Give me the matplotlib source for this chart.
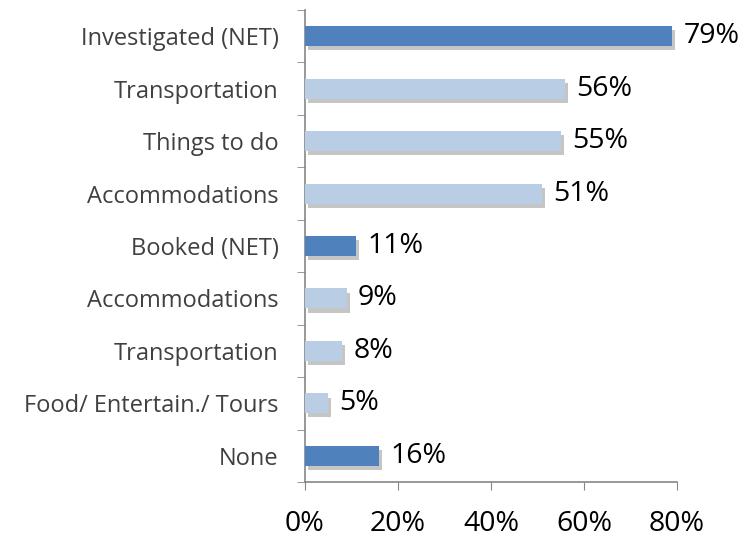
import matplotlib.pyplot as plt
import matplotlib.patheffects as pe
from matplotlib.ticker import FuncFormatter

categories = ['Investigated (NET)', 'Transportation', 'Things to do', 'Accommodations',
              'Booked (NET)', 'Accommodations', 'Transportation', 'Food/ Entertain./ Tours',
              'None']
values = [79, 56, 55, 51, 11, 9, 8, 5, 16]
is_net = [True, False, False, False, True, False, False, False, True]

dark = '#4F81BD'
light = '#B9CDE5'

plt.rcParams['font.family'] = ['Open Sans', 'DejaVu Sans']

fig = plt.figure(figsize=(7.42, 5.37), dpi=100)
ax = fig.add_axes([305 / 742, 1 - 482 / 537, 372 / 742, 472 / 537])

ypos = list(range(len(categories)))[::-1]
colors = [dark if n else light for n in is_net]
shadow = [pe.SimplePatchShadow(offset=(2, -3), shadow_rgbFace='#8c8c8c', alpha=0.5),
          pe.Normal()]
bars = ax.barh(ypos, values, height=0.38, color=colors, zorder=3)
for b in bars:
    b.set_path_effects(shadow)

for y, v in zip(ypos, values):
    ax.annotate(f'{v}%', (v, y), xytext=(8, 0), textcoords='offset points',
                va='center', ha='left', fontsize=20.5, color='black')

ax.set_xlim(0, 80)
ax.set_ylim(-0.5, len(categories) - 0.5)
ax.set_xticks([0, 20, 40, 60, 80])
ax.xaxis.set_major_formatter(FuncFormatter(lambda x, _: f'{x:.0f}%'))
ax.tick_params(axis='x', labelsize=20.5, length=6, color='#868686', pad=14)

ax.set_yticks(ypos)
ax.set_yticklabels(categories, fontsize=17, color='#404040')
ax.set_yticks([i - 0.5 for i in range(len(categories) + 1)], minor=True)
ax.tick_params(axis='y', which='major', length=0, pad=19)
ax.tick_params(axis='y', which='minor', length=6, color='#868686')

for side in ['top', 'right']:
    ax.spines[side].set_visible(False)
for side in ['left', 'bottom']:
    ax.spines[side].set_color('#868686')
    ax.spines[side].set_linewidth(1.2)

fig.savefig('out.png', dpi=100)
